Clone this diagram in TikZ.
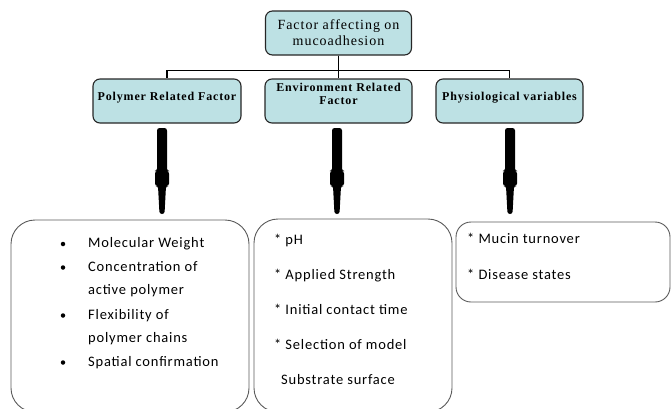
\documentclass[tikz,border=0pt]{standalone}
\usepackage{fontspec}
\setmainfont{Liberation Serif}
\newfontfamily\headfont[LetterSpace=7]{Liberation Serif}
\newfontfamily\itemfont[LetterSpace=5.5]{Carlito}
\usetikzlibrary{positioning,calc}
\definecolor{boxcyan}{HTML}{BDE1E4}
\definecolor{edgegray}{HTML}{5A5A5A}

\begin{document}
\begin{tikzpicture}[x=1pt,y=-1pt]
\tikzset{
    head/.style={draw=black!85, line width=1.1pt, fill=boxcyan, rounded corners=7pt, inner sep=0pt},
    cathead/.style={font=\headfont\fontsize{12}{12.5}\selectfont\bfseries, align=center, inner sep=0pt},
    listbox/.style={draw=edgegray, line width=0.9pt, rounded corners=24pt, inner sep=0pt},
    item/.style={font=\itemfont\fontsize{14.5}{16}\selectfont, anchor=base west, inner sep=0pt},
    dot/.style={circle, fill=black, minimum size=4.5pt, inner sep=0pt},
    tree/.style={line width=1.5pt},
}
\clip (0,0) rectangle (672,408);
\def\Stem(#1){\fill[rounded corners=2.5pt] (#1) ++(-5,0) -- ++(10,0) -- ++(0,43) -- ++(2,0) -- ++(0,15)
    -- ++(-3,0) -- ++(-1.5,28) -- ++(-5,0) -- ++(-1.5,-28) -- ++(-3,0) -- ++(0,-15) -- ++(2,0) -- cycle;}

% The top box and the three factor groups.
\node[head, minimum width=146, minimum height=44, align=center,
      font=\headfont\fontsize{14}{16}\selectfont] (top) at (338.5,33) {Factor affecting on\\mucoadhesion};
\node[head, minimum width=148, minimum height=44] (cat1) at (167,101) {};
\node[head, minimum width=147, minimum height=44] (cat2) at (338.5,101) {};
\node[head, minimum width=147, minimum height=44] (cat3) at (509.5,101) {};
\path (167,98)   node[cathead] (cat1t) {Polymer Related Factor};
\path (338.5,94) node[cathead] (cat2t) {Environment Related\\Factor};
\path (509.5,98) node[cathead] (cat3t) {Physiological variables};

% Tree lines from the top box down to the groups.
\draw[tree] (top.south) -- ++(0,15) -| (cat1.north);
\draw[tree] (top.south) -- (cat2.north);
\draw[tree] (top.south) -- ++(0,15) -| (cat3.north);

% The lists.
\node[listbox, minimum width=238, minimum height=192] (bx1) at (130,316) {};
\node[listbox, minimum width=198, minimum height=193] (bx2) at (353,315.5) {};
\node[listbox, minimum width=214, minimum height=80, rounded corners=15pt] (bx3) at (563,262) {};

% Thick stems from each group to its list.
\coordinate (st1) at (162,128);
\coordinate (st2) at (337,128);
\coordinate (st3) at (510,128);
\Stem(st1)
\Stem(st2)
\Stem(st3)

% Polymer related items.
\path (63,244)   node[dot] (d1) {};
\path (63,267.5) node[dot] (d2) {};
\path (63,315.5) node[dot] (d3) {};
\path (63,362.5) node[dot] (d4) {};
\path (88,247.5) node[item] (p1) {Molecular Weight};
\path (88,271)   node[item] (p2) {Concentration of};
\path (88,294.5) node[item] (p3) {active polymer};
\path (88,319)   node[item] (p4) {Flexibility of};
\path (88,342.5) node[item] (p5) {polymer chains};
\path (88,366)   node[item] (p6) {Spatial confirmation};

% Environment related items.
\path (274,244.5) node[item] (e1) {* pH};
\path (274,279.5) node[item] (e2) {* Applied Strength};
\path (274,314.5) node[item] (e3) {* Initial contact time};
\path (274,349.5) node[item] (e4) {* Selection of model};
\path (281,384.5) node[item] (e5) {Substrate surface};

% Physiological items.
\path (467,243.5) node[item] (v1) {* Mucin turnover};
\path (467,279.5) node[item] (v2) {* Disease states};
\end{tikzpicture}
\end{document}
